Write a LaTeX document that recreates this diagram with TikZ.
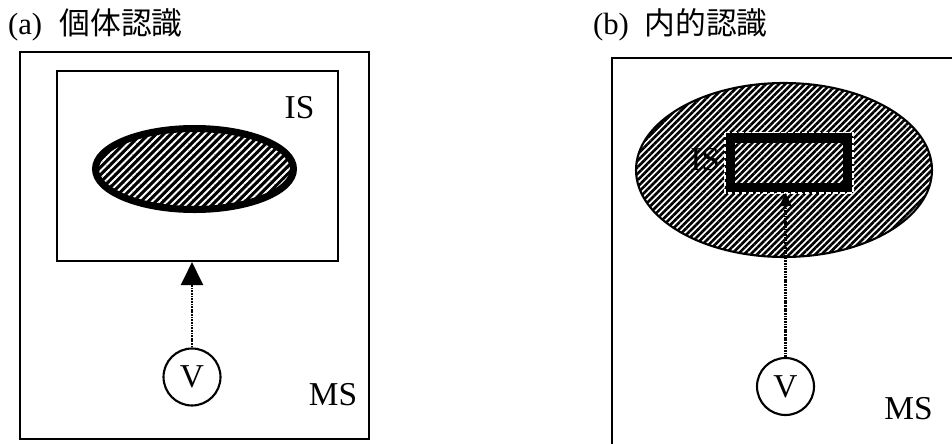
\documentclass[tikz,border=0pt]{standalone}
\usepackage{fontspec}
\setmainfont{Liberation Serif}
\newfontfamily\jpfont{Noto Sans CJK JP}
\usetikzlibrary{arrows.meta,shapes.geometric,patterns.meta}

\begin{document}
\begin{tikzpicture}[
    x=0.02cm, y=-0.02cm,
    line width=1.2pt,
    every node/.style={inner sep=0pt, font=\fontsize{19}{22}\selectfont},
    frame/.style={draw, rectangle},
    vnode/.style={draw, circle, minimum size=1.14cm},
    probe/.style={line width=1.2pt, dash pattern=on 1pt off 0.5pt},
    title/.style={anchor=base west, font=\fontsize{17.5}{20}\selectfont}
]
  \useasboundingbox (0,0) rectangle (952,443);
  \clip (0,0) rectangle (952,443);

  % (a) left panel
  \node[title] (tita) at (7,34) {(a)\hspace{10pt}{\jpfont 個体認識}};
  \node[frame, minimum width=6.98cm, minimum height=7.74cm] (MSa) at (194.5,245.5) {};
  \node[frame, minimum width=5.62cm, minimum height=3.8cm] (ISa) at (197.5,166) {};
  \node[ellipse, draw, line width=4pt, minimum width=3.96cm, minimum height=1.62cm,
        preaction={fill=black}, pattern color=white,
        pattern={Lines[angle=45, distance=3pt, line width=1.1pt]}] (Ea) at (194.5,169) {};
  \node[anchor=base] (lisa) at (299.5,118) {IS};
  \node[anchor=base] (lmsa) at (333,405) {MS};
  \node[vnode] (Va) at (192,377) {V};

  % (b) right panel
  \node[title] (titb) at (592,34) {(b)\hspace{9pt}{\jpfont 内的認識}};
  \node[frame, minimum width=7.76cm, minimum height=8.84cm] (MSb) at (806,279) {};
  \node[ellipse, draw, minimum width=5.92cm, minimum height=3.48cm,
        preaction={fill=white},
        pattern={Lines[angle=45, distance=2.6pt, line width=1.5pt]}] (Eb) at (784,170) {};
  \node[anchor=base east] (lisb) at (721,170) {IS};
  \node[frame, line width=5.7pt, minimum width=2.36cm, minimum height=1.01cm] (ISb) at (789,162.75) {};
  \draw[white, line width=0.9pt, dash pattern=on 2.5pt off 1.5pt]
    (ISb.north west) rectangle (ISb.south east);
  \node[vnode] (Vb) at (785.5,386.5) {V};
  \node[anchor=base] (lmsb) at (908.5,419) {MS};

  % edges
  \draw[probe, -{Triangle[length=0.46cm, width=0.44cm]}] (Va) -- (Va |- ISa.south);
  \draw[probe, -{Triangle[length=0.26cm, width=0.24cm]}] (Vb) -- (Vb |- ISb.south);
\end{tikzpicture}
\end{document}
